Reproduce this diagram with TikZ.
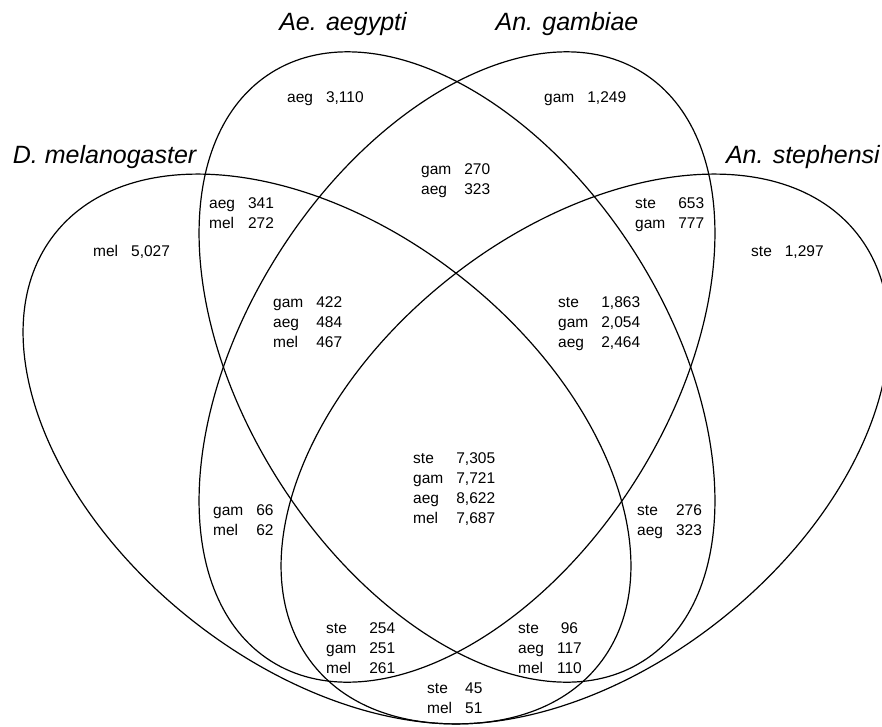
\documentclass[tikz,border=0pt]{standalone}
\usepackage{fontspec}
\setmainfont{Liberation Sans}
\newcommand\vlab[1]{\begin{tabular}[t]{@{}l@{\hspace{13pt}}c@{}}#1\end{tabular}}
\begin{document}
\begin{tikzpicture}[x=1pt,y=-1pt,
  venn/.style={line width=1.2pt, draw=black},
  cnt/.style={anchor=base west, inner sep=0pt, font=\fontsize{15.5}{20}\selectfont},
  ttl/.style={inner sep=0pt, font=\fontsize{25}{30}\selectfont\itshape}]
\path[use as bounding box] (0,0) rectangle (882,726);
\begin{scope}
\clip (0,0) rectangle (882,726);
\draw[venn, rotate around={-57.7:(457,367)}] (457,367) ellipse [x radius=348, y radius=211.5];
\draw[venn, rotate around={57.7:(457,367)}] (457,367) ellipse [x radius=348, y radius=211.5];
\draw[venn, rotate around={-38.35:(327,449)}] (327,449) ellipse [x radius=347, y radius=218];
\draw[venn, rotate around={38.35:(585,449)}] (585,449) ellipse [x radius=347, y radius=218];
\end{scope}
% titles
\node[ttl, anchor=base] (taeg) at (343,30) {Ae. aegypti};
\node[ttl, anchor=base] (tgam) at (567,30) {An. gambiae};
\node[ttl, anchor=base west] (tmel) at (12.7,163) {D. melanogaster};
\node[ttl, anchor=base east] (tste) at (880,163) {An. stephensi};
% counts
\node[cnt] (l1) at (287,102) {\vlab{aeg & 3,110}};
\node[cnt] (l2) at (544,102) {\vlab{gam & 1,249}};
\node[cnt] (l3) at (421,174) {\vlab{gam & 270\\ aeg & 323}};
\node[cnt] (l4) at (209,208) {\vlab{aeg & 341\\ mel & 272}};
\node[cnt] (l5) at (635,208) {\vlab{ste & 653\\ gam & 777}};
\node[cnt] (l6) at (93,256) {\vlab{mel & 5,027}};
\node[cnt] (l7) at (751,256) {\vlab{ste & 1,297}};
\node[cnt] (l8) at (273,307) {\vlab{gam & 422\\ aeg & 484\\ mel & 467}};
\node[cnt] (l9) at (558,307) {\vlab{ste & 1,863\\ gam & 2,054\\ aeg & 2,464}};
\node[cnt] (l10) at (413,463) {\vlab{ste & 7,305\\ gam & 7,721\\ aeg & 8,622\\ mel & 7,687}};
\node[cnt] (l11) at (213,515) {\vlab{gam & 66\\ mel & 62}};
\node[cnt] (l12) at (637,515) {\vlab{ste & 276\\ aeg & 323}};
\node[cnt] (l13) at (326,633) {\vlab{ste & 254\\ gam & 251\\ mel & 261}};
\node[cnt] (l14) at (518,633) {\vlab{ste & 96\\ aeg & 117\\ mel & 110}};
\node[cnt] (l15) at (427,693) {\vlab{ste & 45\\ mel & 51}};
\end{tikzpicture}
\end{document}
